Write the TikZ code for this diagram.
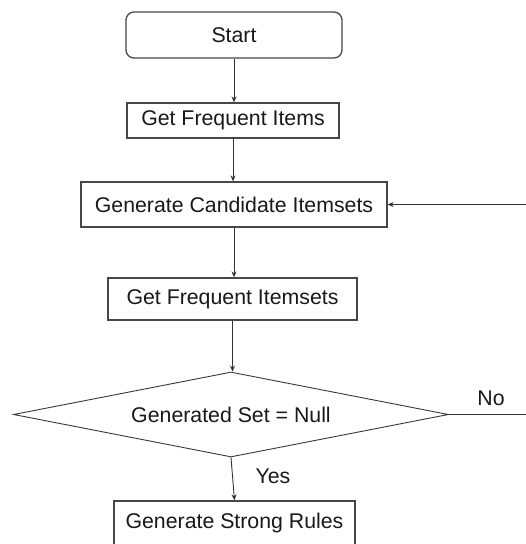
\documentclass[tikz,border=0pt]{standalone}
\usepackage{fontspec}
\setmainfont{Liberation Sans}
\usetikzlibrary{shapes.geometric,arrows.meta}
\begin{document}
\begin{tikzpicture}[x=1pt,y=-1pt,
  font=\fontsize{21.3}{25}\selectfont,
  box/.style={draw=black!72,line width=1.3pt,fill=white,inner sep=0pt,text=black!90},
  decbox/.style={draw=black!78,line width=0.9pt,shape=diamond,aspect=5.12,inner sep=0pt,text=black!90,
     minimum width=435pt,minimum height=85pt},
  arr/.style={draw=black!80,line width=0.9pt,-{Stealth[length=6pt,width=5pt]}},
  ln/.style={draw=black!80,line width=0.9pt},
  lbl/.style={fill=white,inner sep=2pt,text=black!90}]
\useasboundingbox (0,0) rectangle (526,544);
\node[box,rounded corners=8pt,minimum width=216pt,minimum height=46pt] (start) at (234,35) {Start};
\node[box,minimum width=212pt,minimum height=35pt] (items) at (233,120.5) {Get Frequent Items};
\node[box,minimum width=306pt,minimum height=45pt] (cand) at (234,204.5) {Generate Candidate Itemsets};
\node[box,minimum width=249pt,minimum height=42pt] (isets) at (232.5,299) {Get Frequent Itemsets};
\node[decbox] (dec) at (231,414.5) {Generated Set = Null};
\node[box,minimum width=241pt,minimum height=50pt,text depth=10pt] (rules) at (234.5,526) {Generate Strong Rules};
\coordinate (rin) at (526,204.5);
\coordinate (nout) at (526,414.5);
\draw[arr] (start.south) -- (start.south |- items.north);
\draw[arr] (items.south) -- (items.south |- cand.north);
\draw[arr] (cand.south) -- (cand.south |- isets.north);
\draw[arr] (isets.south) -- (isets.south |- dec.north);
\draw[arr] (dec.south) -- (rules.north);
\draw[arr] (rin) -- (cand.east);
\draw[ln] (dec.east) -- (nout);
\node[lbl] (no) at (491,398) {No};
\node[lbl] (yes) at (273,476) {Yes};
\end{tikzpicture}
\end{document}
